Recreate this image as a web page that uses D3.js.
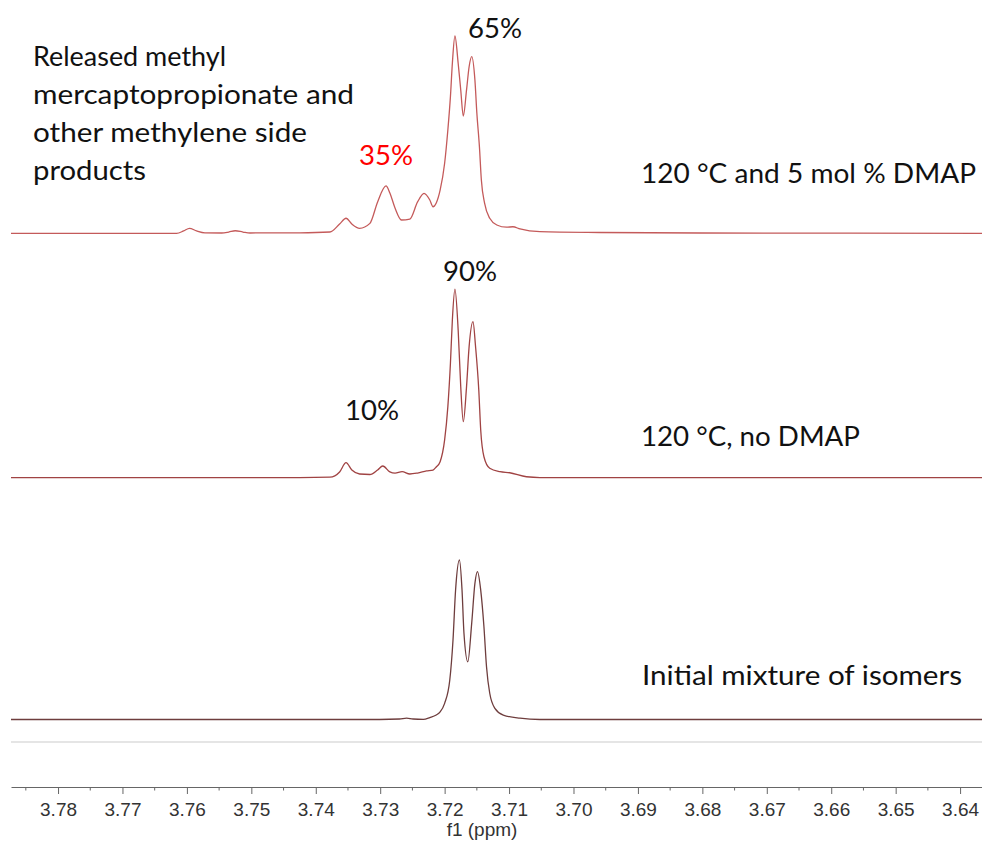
<!DOCTYPE html>
<head>
  <meta charset="utf-8">
  <script src="https://cdn.jsdelivr.net/npm/d3@7/dist/d3.min.js"></script>
  <style>
    body { margin:0; background:#fff; }
    .lbl { font-family: Lato, "Open Sans", sans-serif; fill:#111; }
    .axis text { font-family: "Liberation Sans", Arial, sans-serif; font-size:19px; fill:#333; }
    .axis path, .axis line { stroke:#666; }
  </style>
</head>
<body>
  <script>
    // spectra: chemical shift (ppm) and height (arbitrary units)
    var topPpm = [3.7873, 3.7735, 3.7627, 3.7616, 3.7605, 3.7596, 3.7585, 3.7572, 3.7546, 3.7535, 3.7525, 3.7513, 3.7502,
      3.7425, 3.7378, 3.7363, 3.7353, 3.7344, 3.7332, 3.7316, 3.7304, 3.7291, 3.7285, 3.7277, 3.7267, 3.7254, 3.7242,
      3.7232, 3.7223, 3.7218, 3.7213, 3.7207, 3.7200, 3.7195, 3.7191, 3.7188, 3.7184, 3.7179, 3.7175, 3.7171, 3.7166,
      3.7162, 3.7158, 3.7153, 3.7150, 3.7146, 3.7143, 3.7138, 3.7130, 3.7119, 3.7104, 3.7094, 3.7083, 3.7052, 3.6959,
      3.6804, 3.6366];
    var topInt = [0, 0, 0, 0, 1.5, 3.1, 1.5, 0.3, 0.2, 0.8, 1.6, 0.8, 0.2,
      0.3, 0.8, 5.8, 9.4, 5.8, 3.1, 6.2, 19.6, 29.6, 25.2, 15.8, 8.3, 8.9, 19.6,
      25, 20.8, 16.6, 19, 27, 43.8, 64.6, 85.4, 106.3, 123.3, 106.3, 89.6, 73.3, 89.6,
      104.1, 110.4, 95.8, 75.2, 54.1, 33.3, 18.8, 9.4, 5.2, 3.8, 4.1, 2.7, 1.0, 0.5,
      0.2, 0];

    var midPpm = [3.7873, 3.7425, 3.7378, 3.7363, 3.7353, 3.7344, 3.7332, 3.7316, 3.7304, 3.7296, 3.7285, 3.7277, 3.7266,
      3.7254, 3.7242, 3.7228, 3.7218, 3.7213, 3.7207, 3.7200, 3.7195, 3.7191, 3.7188, 3.7184, 3.7179, 3.7175, 3.7171,
      3.7166, 3.7162, 3.7156, 3.7152, 3.7147, 3.7144, 3.7139, 3.7130, 3.7114, 3.7099, 3.7073, 3.7052, 3.6366];
    var midInt = [0, 0, 0.3, 3.6, 9.4, 4.8, 2.3, 2, 4.8, 7.3, 3.6, 2.8, 3.8,
      2.3, 2.9, 4.2, 4.8, 6.7, 10, 23.6, 44.4, 71.5, 98.6, 117.8, 92.3, 56.9, 35,
      56.9, 81.9, 97.5, 81.9, 54.8, 29.8, 13.1, 5.9, 3.8, 3.1, 0.6, 0.1, 0];

    var botPpm = [3.7873, 3.7301, 3.7270, 3.7259, 3.7249, 3.7233, 3.7223, 3.7213, 3.7207, 3.7200, 3.7192, 3.7187, 3.7183,
      3.7177, 3.7173, 3.7170, 3.7164, 3.7158, 3.7153, 3.7149, 3.7144, 3.7139, 3.7135, 3.7130, 3.7122, 3.7109, 3.7083,
      3.7052, 3.6366];
    var botInt = [0, 0, 0.3, 0.9, 0.3, 0.1, 1.2, 2.8, 4.7, 10.1, 24.7, 49.7, 80.9,
      99.7, 80.9, 53.9, 36.1, 60.1, 85.1, 92.4, 80.9, 58, 33, 16.4, 7, 2.8, 0.8,
      0, 0];

    var tickMajor = [3.78, 3.77, 3.76, 3.75, 3.74, 3.73, 3.72, 3.71, 3.70, 3.69, 3.68, 3.67, 3.66, 3.65, 3.64];
    var tickMinor = [3.785, 3.775, 3.765, 3.755, 3.745, 3.735, 3.725, 3.715, 3.705, 3.695, 3.685, 3.675, 3.665, 3.655, 3.645];

    var traceLabels = ["120 °C and 5 mol % DMAP", "120 °C, no DMAP", "Initial mixture of isomers"];
    var pctLabels = ["65%", "35%", "90%", "10%"];
    var noteLines = ["Released methyl", "mercaptopropionate and", "other methylene side", "products"];

    var width = 982, height = 842;

    var svg = d3.select("body").append("svg")
      .attr("width", width)
      .attr("height", height);

    var x = d3.scaleLinear().domain([3.7873, 3.6366]).range([11, 982]);
    var h = d3.scaleLinear().domain([0, 100]).range([0, 160]);

    var traces = [
      { ppm: topPpm, val: topInt, base: 233.3, color: "#c45a5a" },
      { ppm: midPpm, val: midInt, base: 477.7, color: "#a04343" },
      { ppm: botPpm, val: botInt, base: 719.5, color: "#6e3d3d" }
    ];

    traces.forEach(function(t) {
      var pts = t.ppm.map(function(p, i) { return [p, t.val[i]]; });
      var line = d3.line()
        .x(function(d) { return x(d[0]); })
        .y(function(d) { return t.base - h(d[1]); })
        .curve(d3.curveMonotoneX);
      svg.append("path")
        .datum(pts)
        .attr("d", line)
        .attr("fill", "none")
        .attr("stroke", t.color)
        .attr("stroke-width", 1.3);
    });

    // light separator above the axis
    svg.append("line")
      .attr("x1", 11).attr("x2", 982)
      .attr("y1", 742).attr("y2", 742)
      .attr("stroke", "#dcdcdc").attr("stroke-width", 1.5);

    // axis
    var axisY = 787;
    var gx = svg.append("g").attr("class", "axis")
      .attr("transform", "translate(0," + axisY + ")")
      .call(d3.axisBottom(x).tickValues(tickMajor).tickFormat(d3.format(".2f")).tickSize(7).tickSizeOuter(0).tickPadding(9));
    gx.select(".domain").attr("stroke-width", 1.2);

    svg.append("g").attr("class", "axis")
      .attr("transform", "translate(0," + axisY + ")")
      .selectAll("line")
      .data(tickMinor)
      .enter().append("line")
      .attr("x1", function(d) { return x(d); })
      .attr("x2", function(d) { return x(d); })
      .attr("y1", 0).attr("y2", 3.5);

    svg.append("text")
      .attr("x", 482).attr("y", 836)
      .attr("text-anchor", "middle")
      .style("font-family", "'Liberation Sans', Arial, sans-serif")
      .style("font-size", "19px")
      .style("fill", "#333")
      .text("f1 (ppm)");

    // labels, stretched to the widths seen in the picture
    var fs = 27;
    function label(t, px, py, w, anchor, fill) {
      svg.append("text").attr("class", "lbl")
        .attr("x", px).attr("y", py)
        .attr("text-anchor", anchor || "start")
        .attr("textLength", w)
        .attr("lengthAdjust", "spacingAndGlyphs")
        .style("font-size", fs + "px")
        .style("fill", fill || "#111")
        .text(t);
    }

    var traceLabelPos = [[641, 183, 335], [641, 446, 219], [642, 685, 320]];
    traceLabels.forEach(function(t, i) {
      label(t, traceLabelPos[i][0], traceLabelPos[i][1], traceLabelPos[i][2]);
    });

    var pctPos = [[495, 38, "#111"], [386, 165, "#ff0000"], [470, 281, "#111"], [372, 420, "#111"]];
    pctLabels.forEach(function(t, i) {
      label(t, pctPos[i][0], pctPos[i][1], 54, "middle", pctPos[i][2]);
    });

    var noteWidths = [193, 321, 274, 113];
    noteLines.forEach(function(t, i) {
      label(t, 33, 66 + i * 38, noteWidths[i]);
    });
  </script>
</body>
